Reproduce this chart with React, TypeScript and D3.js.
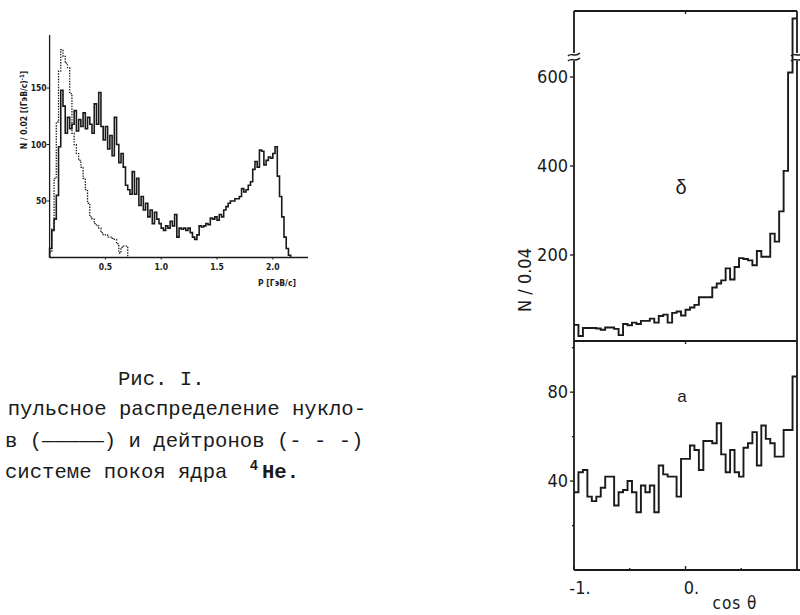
import React from 'react';
import * as d3 from 'd3';

// Рис. I — momentum distribution, bins of 0.02 ГэВ/c starting at p = 0
const pBin = 0.02;
const nucleons = [
  8, 24, 34, 55, 98, 148, 134, 110, 124, 114,
  118, 130, 112, 122, 116, 128, 114, 124, 118, 110,
  136, 118, 146, 116, 104, 116, 96, 108, 90, 124,
  100, 84, 92, 80, 64, 60, 56, 76, 56, 70,
  46, 54, 42, 48, 36, 42, 30, 40, 34, 30,
  26, 24, 28, 26, 32, 28, 38, 18, 26, 25,
  26, 24, 26, 22, 18, 16, 20, 28, 27, 28,
  30, 29, 35, 34, 36, 33, 38, 36, 42, 45,
  48, 50, 50, 52, 52, 54, 61, 58, 60, 64,
  67, 78, 85, 80, 95, 94, 82, 86, 89, 88,
  92, 98, 72, 54, 36, 18, 8, 2,
];
const deuterons = [
  5, 25, 70, 120, 165, 184, 178, 172, 168, 145,
  110, 100, 92, 86, 80, 70, 60, 48, 36, 34,
  30, 28, 26, 22, 20, 20, 18, 18, 17, 16,
  12, 4, 9, 10, 10,
];
const pTicks = [0.5, 1.0, 1.5, 2.0];
const pTickLabels = ['0.5', '1.0', '1.5', '2.0'];
const nTicks = [50, 100, 150];

// cos θ distributions, bins of 0.04 from -1 to 1 (panel б on top, panel а below)
const cosBin = 0.04;
const panelB = [
  43, 18, 36, 36, 36, 35, 32, 37, 37, 34,
  20, 45, 42, 48, 45, 52, 52, 57, 48, 63,
  66, 48, 70, 73, 64, 77, 82, 88, 105, 105,
  105, 127, 136, 143, 170, 145, 173, 193, 191, 188,
  177, 209, 196, 196, 248, 230, 298, 389, 610, 1100,
];
const panelA = [
  35, 44, 45, 33, 31, 33, 37, 42, 42, 29,
  35, 36, 40, 35, 26, 38, 35, 38, 26, 47,
  43, 42, 42, 33, 50, 50, 56, 54, 45, 58,
  58, 57, 66, 52, 44, 54, 44, 42, 55, 57,
  62, 47, 65, 59, 57, 51, 51, 63, 63, 87,
];
const bTicks = [200, 400, 600];
const aTicks = [40, 80];
const aMinorTicks = [20, 60, 100];
const cosTicks = [-1, 0];
const cosTickLabels = ['-1.', '0.'];
const cosMinorTicks = [-0.5, 0.5];

// caption as visible on the page (its left edge is cut by the scan)
const captionTitle = 'Рис. I.';
const captionLines = [
  'пульсное распределение нукло-',
  'в (—————) и дейтронов (- - -)',
  'системе покоя ядра',
];

const ink = '#1a1a1a';
const narrow = "'Liberation Sans Narrow', 'DejaVu Sans Condensed', 'Liberation Sans', sans-serif";
const sans = "'Liberation Sans', 'DejaVu Sans', sans-serif";
const mono = "'Liberation Mono', 'DejaVu Sans Mono', monospace";

type Pt = [number, number];

function stepPath(
  counts: number[], start: number, width: number,
  x: d3.ScaleLinear<number, number>, y: d3.ScaleLinear<number, number>,
  fromBase: boolean, toBase: boolean,
) {
  const end = start + counts.length * width;
  const pts: Pt[] = counts.map((v, i) => [start + i * width, v] as Pt);
  pts.push([end, counts[counts.length - 1]]);
  if (fromBase) pts.unshift([start, 0]);
  if (toBase) pts.push([end, 0]);
  return d3.line<Pt>().x(d => x(d[0])).y(d => y(d[1])).curve(d3.curveStepAfter)(pts) || '';
}

function breakMark(cx: number, cy: number) {
  return `M${cx - 6},${cy - 1} C${cx - 3},${cy - 5} ${cx + 1},${cy + 1} ${cx + 6},${cy - 4}` +
    ` M${cx - 6},${cy + 4} C${cx - 3},${cy} ${cx + 1},${cy + 6} ${cx + 6},${cy + 1}`;
}

export default function App() {
  // left chart scales
  const xL = d3.scaleLinear().domain([0, 2.3]).range([49.6, 306.3]);
  const yL = d3.scaleLinear().domain([0, 195]).range([257.5, 37.2]);
  const nucleonPath = stepPath(nucleons, 0, pBin, xL, yL, true, true);
  const deuteronPath = stepPath(deuterons, 0, pBin, xL, yL, true, true);

  // right chart scales
  const xR = d3.scaleLinear().domain([-1, 1]).range([574, 797]);
  const yB = d3.scaleLinear().domain([0, 645, 1200]).range([344, 57, 10]);
  const yA = d3.scaleLinear().domain([0, 103]).range([570, 341]);
  const pathB = stepPath(panelB, -1, cosBin, xR, yB, false, false);
  const pathA = stepPath(panelA, -1, cosBin, xR, yA, false, false);

  const left = xR(-1), right = xR(1);
  const top = 11, mid = yA(103), bottom = yA(0);
  const brk = yB(645);

  return (
    <svg width={800} height={615} style={{ position: 'absolute', left: 0, top: 0, background: '#fff' }}>
      <rect x={0} y={0} width={800} height={615} fill="#fff" />

      {/* ---------- left: momentum distribution ---------- */}
      <g stroke={ink} fill="none">
        <line x1={xL(0)} y1={35} x2={xL(0)} y2={yL(0)} strokeWidth={1.3} />
        <line x1={xL(0)} y1={yL(0)} x2={308} y2={yL(0)} strokeWidth={1.3} />
        {nTicks.map(t => (
          <line key={t} x1={xL(0) - 3} x2={xL(0)} y1={yL(t)} y2={yL(t)} strokeWidth={1} />
        ))}
        {pTicks.map(t => (
          <line key={t} x1={xL(t)} x2={xL(t)} y1={yL(0)} y2={yL(0) + 2} strokeWidth={1} />
        ))}
        <path d={deuteronPath} strokeWidth={1.3} strokeDasharray="1.4,1.3" />
        <path d={nucleonPath} strokeWidth={1.6} />
      </g>
      <g fill={ink} fontFamily={narrow} fontWeight="bold" fontSize={8.5}>
        {nTicks.map(t => (
          <text key={t} x={xL(0) - 3} y={yL(t)} dy="0.35em" textAnchor="end">{t}</text>
        ))}
        {pTicks.map((t, i) => (
          <text key={t} x={xL(t)} y={yL(0) + 12} textAnchor="middle">{pTickLabels[i]}</text>
        ))}
        <text x={277} y={286} textAnchor="middle">P [ГэВ/c]</text>
        <text transform={`translate(27,110) rotate(-90)`} textAnchor="middle">
          N / 0.02 [(ГэВ/c)<tspan dy={-3} fontSize={6}>-1</tspan><tspan dy={3}>]</tspan>
        </text>
      </g>

      {/* ---------- caption ---------- */}
      <g fill={ink} fontFamily={mono} fontSize={20.6}>
        <text x={118} y={385}>{captionTitle}</text>
        <text x={7.7} y={415}>{captionLines[0]}</text>
        <text x={5} y={447}>{captionLines[1]}</text>
        <text x={5} y={478}>{captionLines[2]}</text>
        <text x={250} y={470} fontSize={14} fontFamily={sans} fontWeight="bold">4</text>
        <text x={262} y={478} fontWeight="bold">He.</text>
      </g>

      {/* ---------- right: cos θ distributions ---------- */}
      <g stroke={ink} fill="none" strokeWidth={1.8}>
        {/* frame */}
        <line x1={left} y1={top} x2={right} y2={top} />
        <line x1={left} y1={top} x2={left} y2={bottom} />
        <line x1={right} y1={top} x2={right} y2={bottom} />
        <line x1={left} y1={mid} x2={right} y2={mid} />
        <line x1={left} y1={bottom} x2={800} y2={bottom} />
        {/* axis breaks */}
        <rect x={left - 3} y={brk - 4} width={6} height={8} fill="#fff" stroke="none" />
        <rect x={right - 3} y={brk - 4} width={6} height={8} fill="#fff" stroke="none" />
        <path d={breakMark(left, brk)} strokeWidth={1.4} />
        <path d={breakMark(right, brk)} strokeWidth={1.4} />
        {/* ticks */}
        {bTicks.map(t => (
          <line key={t} x1={left - 4} x2={left} y1={yB(t)} y2={yB(t)} strokeWidth={1.3} />
        ))}
        {aTicks.map(t => (
          <line key={t} x1={left - 4} x2={left} y1={yA(t)} y2={yA(t)} strokeWidth={1.3} />
        ))}
        {aMinorTicks.map(t => (
          <line key={t} x1={left - 2} x2={left} y1={yA(t)} y2={yA(t)} strokeWidth={1.3} />
        ))}
        {cosTicks.map(t => (
          <line key={t} x1={xR(t)} x2={xR(t)} y1={bottom} y2={bottom - 4} strokeWidth={1.3} />
        ))}
        {cosMinorTicks.map(t => (
          <line key={t} x1={xR(t)} x2={xR(t)} y1={bottom} y2={bottom - 2} strokeWidth={1.3} />
        ))}
        <line x1={xR(0)} x2={xR(0)} y1={top} y2={top + 3} strokeWidth={1.3} />
        <line x1={xR(0)} x2={xR(0)} y1={mid} y2={mid + 3} strokeWidth={1.3} />
        {/* histograms */}
        <path d={pathB} strokeWidth={1.9} strokeLinejoin="miter" />
        <path d={pathA} strokeWidth={1.9} strokeLinejoin="miter" />
      </g>
      <g fill={ink} fontFamily={narrow} fontSize={18}>
        {bTicks.map(t => (
          <text key={t} x={left - 6} y={yB(t)} dy="0.35em" textAnchor="end">{t}</text>
        ))}
        {aTicks.map(t => (
          <text key={t} x={left - 6} y={yA(t)} dy="0.35em" textAnchor="end">{t}</text>
        ))}
        {cosTicks.map((t, i) => (
          <text key={t} x={xR(t) + 6} y={594} textAnchor="middle">{cosTickLabels[i]}</text>
        ))}
        <text x={735} y={609} fontSize={17} textAnchor="middle" letterSpacing={1}>cos θ</text>
        <text transform={`translate(531,280) rotate(-90)`} textAnchor="middle">N / 0.04</text>
      </g>
      <g fill={ink} fontFamily={sans}>
        <text x={681} y={194} fontSize={20} textAnchor="middle">δ</text>
        <text x={682} y={402} fontSize={17} textAnchor="middle">a</text>
      </g>
    </svg>
  );
}
